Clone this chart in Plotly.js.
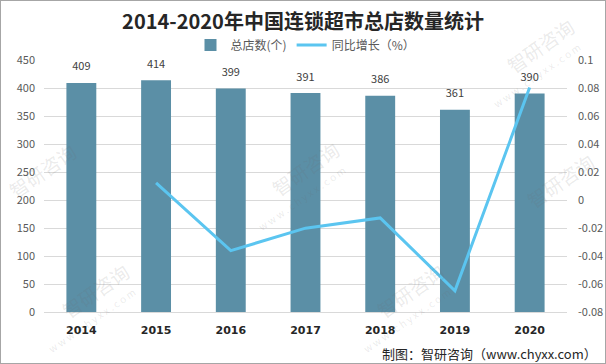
<!DOCTYPE html>
<html>
<head>
<meta charset="utf-8">
<script src="https://cdn.plot.ly/plotly-3.0.1.min.js"></script>
<style>
html,body{margin:0;padding:0;background:#fff;}
#wrap{width:606px;height:364px;box-sizing:border-box;border:1px solid #a6a6a6;overflow:hidden;}
#chart{width:604px;height:362px;}
</style>
</head>
<body>
<div id="wrap"><div id="chart"></div></div>
<script>
const years = ['2014','2015','2016','2017','2018','2019','2020'];
const storeCounts = [409, 414, 399, 391, 386, 361, 390];
const growthYears = ['2015','2016','2017','2018','2019','2020'];
const growthRates = [0.0122, -0.0362, -0.0201, -0.0128, -0.0648, 0.0803];
const leftTicks = [0, 50, 100, 150, 200, 250, 300, 350, 400, 450];
const rightTickVals = [-0.08, -0.06, -0.04, -0.02, 0, 0.02, 0.04, 0.06, 0.08, 0.1];
const rightTickText = ['-0.08', '-0.06', '-0.04', '-0.02', '0', '0.02', '0.04', '0.06', '0.08', '0.1'];

const cjk = '"Noto Sans CJK SC", "Microsoft YaHei", sans-serif';

const barTrace = {
  type: 'bar', name: '总店数(个)', x: years, y: storeCounts,
  marker: {color: '#5b8fa6'}, hoverinfo: 'x+y'
};
const labelTrace = {
  type: 'scatter', mode: 'markers+text', x: years, y: storeCounts, showlegend: false,
  text: storeCounts.map(String), textposition: 'top center', cliponaxis: false,
  marker: {size: 14, color: 'rgba(0,0,0,0)'},
  textfont: {family: cjk, size: 11, color: '#404040'}, hoverinfo: 'skip'
};
const lineTrace = {
  type: 'scatter', mode: 'lines', name: '同比增长（%）', x: growthYears, y: growthRates,
  yaxis: 'y2', line: {color: '#5bc5f0', width: 3}, cliponaxis: false
};

// watermark centres in page pixels: [x, y, withUrl]
const wmCentres = [[95,290,true],[305,168,true],[540,45,true],[410,290,true],[42,170,false],[560,180,false]];
const px = p => (p - 1 - 43) / 523;
const py = p => (312 - p) / 252;
const wm = [];
wmCentres.forEach(c => {
  wm.push({xref: 'paper', yref: 'paper', x: px(c[0]), y: py(c[1]), xanchor: 'center', yanchor: 'middle',
    showarrow: false, textangle: -35,
    text: '智研咨询', font: {family: cjk, size: 19, color: 'rgba(110,110,110,0.14)'}});
  if (c[2]) wm.push({xref: 'paper', yref: 'paper', x: px(c[0] - 4), y: py(c[1] + 30), xanchor: 'center', yanchor: 'middle',
    showarrow: false, textangle: -35,
    text: 'w w w . c h y x x . c o m', font: {family: cjk, size: 10, color: 'rgba(110,110,110,0.14)'}});
});

const layout = {
  width: 604, height: 362,
  margin: {l: 43, r: 38, t: 59, b: 51},
  paper_bgcolor: '#fff', plot_bgcolor: '#fff',
  title: {text: '2014-2020年中国连锁超市总店数量统计', x: 0.5, xanchor: 'center', y: 1 - 21/362, yanchor: 'middle', yref: 'container',
    font: {family: cjk, size: 20, color: '#262626', weight: 700}},
  bargap: 0.6,
  showlegend: true,
  legend: {orientation: 'h', x: 0.5, xanchor: 'center', y: 1 + 15/252, yanchor: 'middle', traceorder: 'normal',
    font: {family: cjk, size: 12, color: '#595959'}, bgcolor: 'rgba(0,0,0,0)', itemwidth: 30},
  xaxis: {type: 'category', showgrid: false, zeroline: false, showline: true, linecolor: '#d9d9d9',
    tickfont: {family: '"DejaVu Sans", sans-serif', size: 11, color: '#262626', weight: 700}, ticklabelstandoff: 8},
  yaxis: {range: [0, 450], tickvals: leftTicks, showgrid: true, gridcolor: '#d9d9d9', zeroline: false,
    tickfont: {family: cjk, size: 11, color: '#595959'}, ticklabelstandoff: 8},
  yaxis2: {overlaying: 'y', side: 'right', range: [-0.08, 0.1], tickvals: rightTickVals, ticktext: rightTickText,
    showgrid: false, zeroline: false, tickfont: {family: cjk, size: 11, color: '#595959'}, ticklabelstandoff: 10},
  annotations: wm.concat([{
    xref: 'paper', yref: 'paper', x: (598-43)/523, xanchor: 'right', y: (311-352)/252, yanchor: 'middle',
    showarrow: false, text: '制图：智研咨询（www.chyxx.com）',
    font: {family: cjk, size: 13, color: '#262626'}
  }])
};

Plotly.newPlot('chart', [barTrace, labelTrace, lineTrace], layout, {displayModeBar: false, staticPlot: true});
</script>
</body>
</html>
